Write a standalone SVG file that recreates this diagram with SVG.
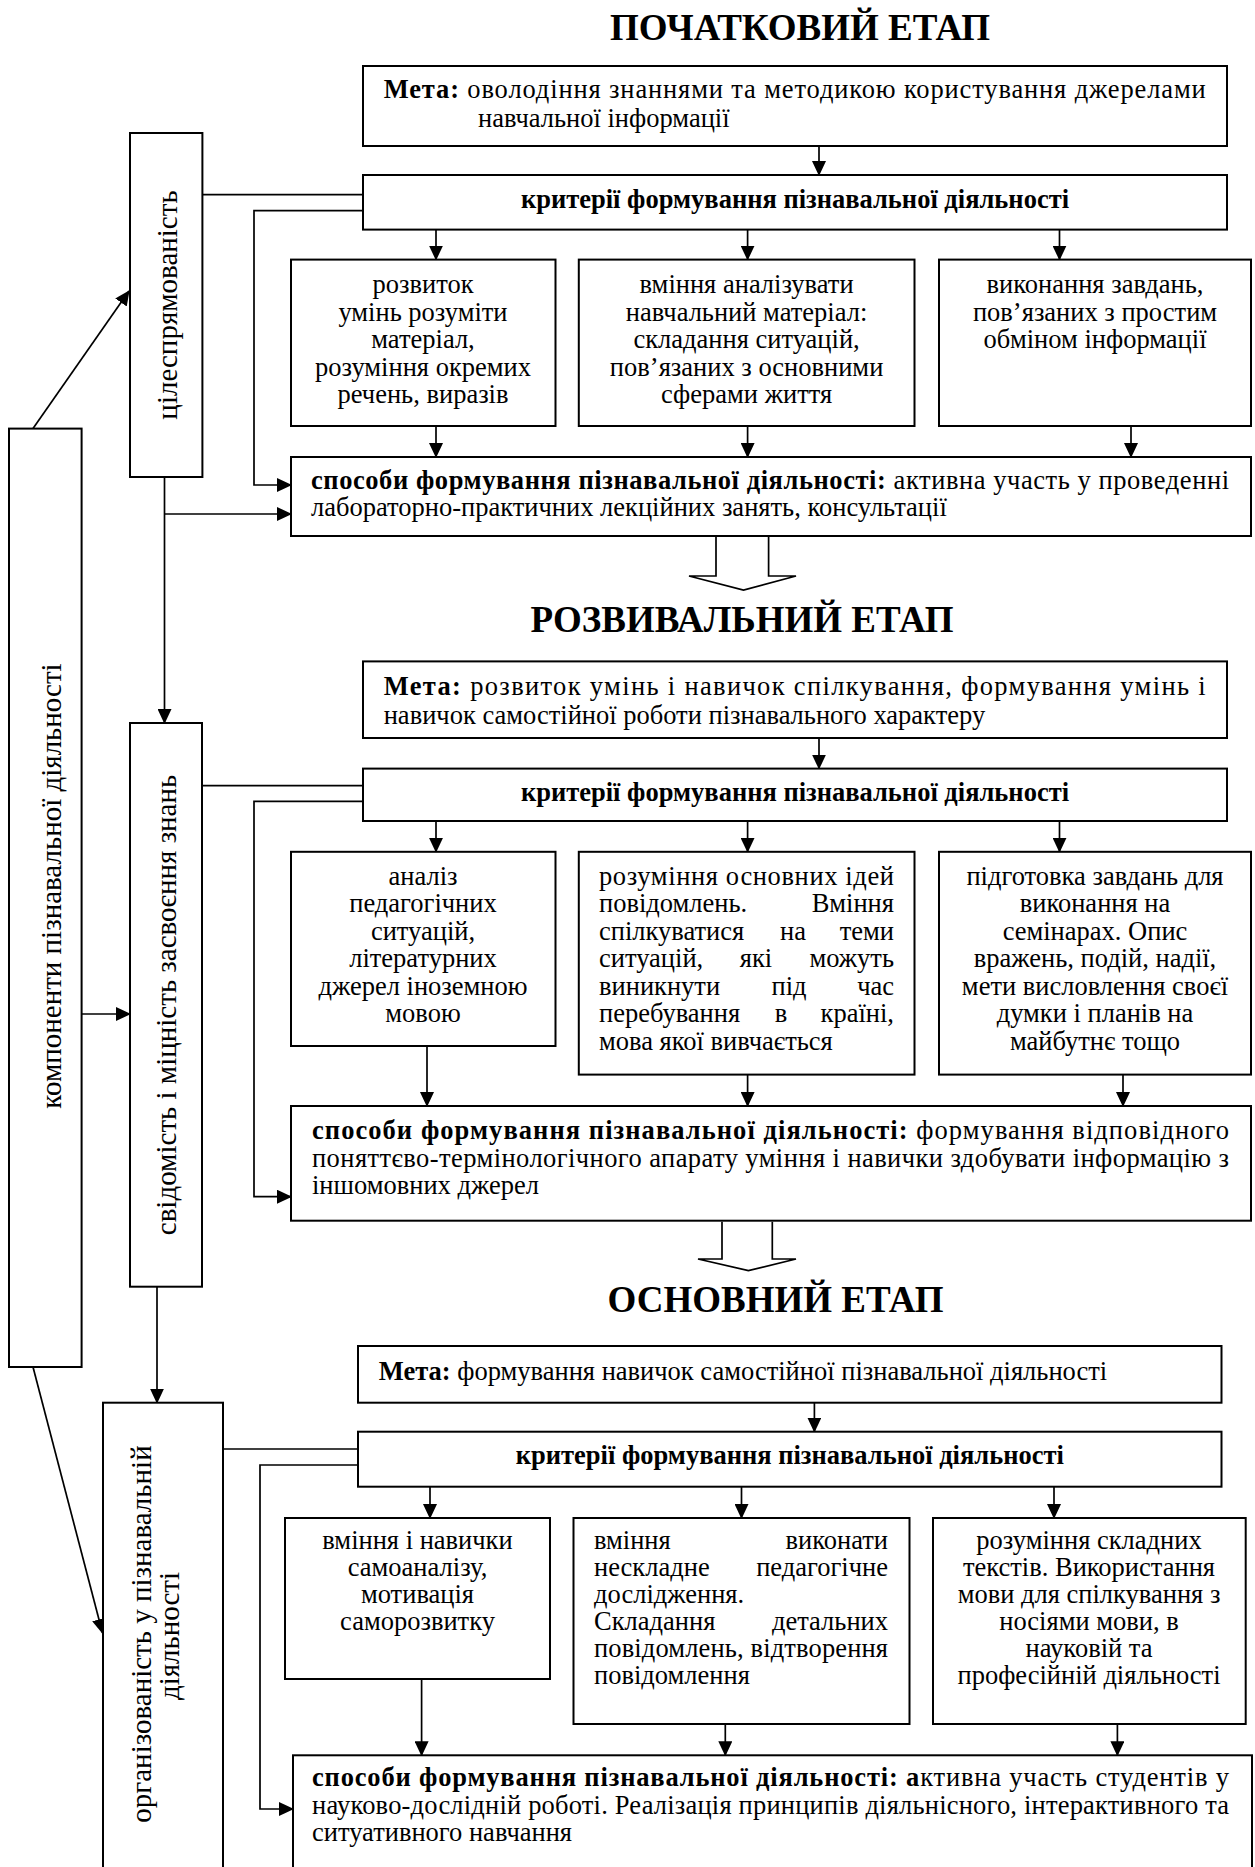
<svg xmlns="http://www.w3.org/2000/svg" width="1255" height="1867" viewBox="0 0 1255 1867">
<style>
.bx{fill:#fff;stroke:#000;stroke-width:2}
.t{font-family:"Liberation Serif","Times New Roman",serif;font-size:26.5px;fill:#000}
.b{font-weight:bold}
.r{font-size:29px}
.h{font-family:"Liberation Serif","Times New Roman",serif;font-size:37px;font-weight:bold;fill:#000;text-anchor:middle}
.c{text-anchor:middle}
.e{text-anchor:end}
.ln{stroke:#000;stroke-width:1.7;fill:none}
.ar{stroke:#000;stroke-width:1.7;fill:none;marker-end:url(#ah)}
.ba{stroke:#000;stroke-width:1.7;fill:#fff}
</style>
<defs>
<marker id="ah" markerWidth="15" markerHeight="14" refX="14" refY="7" orient="auto" markerUnits="userSpaceOnUse">
<path d="M0,0 L15,7 L0,14 z" fill="#000"/>
</marker>
</defs>
<rect width="1255" height="1867" fill="#fff"/>

<g id="titles">
<text class="h" x="800" y="39.5">ПОЧАТКОВИЙ ЕТАП</text>
<text class="h" x="742" y="632">РОЗВИВАЛЬНИЙ ЕТАП</text>
<text class="h" x="775.5" y="1312">ОСНОВНИЙ ЕТАП</text>
</g>

<g id="connectors">
<line class="ar" x1="33" y1="428.6" x2="129" y2="291"/>
<line class="ar" x1="33" y1="1367" x2="102.5" y2="1633"/>
<line class="ar" x1="81.6" y1="1014" x2="130" y2="1014"/>
<line class="ar" x1="164.5" y1="477" x2="164.5" y2="723"/>
<line class="ar" x1="157" y1="1286.7" x2="157" y2="1402.7"/>
<line class="ar" x1="164.5" y1="514" x2="291" y2="514"/>
<line class="ln" x1="202.4" y1="194.6" x2="363" y2="194.6"/>
<line class="ln" x1="202" y1="785.7" x2="363" y2="785.7"/>
<line class="ln" x1="223" y1="1449" x2="358" y2="1449"/>
<polyline class="ar" points="363,210.7 254,210.7 254,485 291,485"/>
<polyline class="ar" points="363,801.4 254,801.4 254,1196.7 291,1196.7"/>
<polyline class="ar" points="358,1465 260,1465 260,1809 293,1809"/>
<line class="ar" x1="819" y1="146" x2="819" y2="175"/>
<line class="ar" x1="436" y1="229.6" x2="436" y2="259.6"/>
<line class="ar" x1="747.6" y1="229.6" x2="747.6" y2="259.6"/>
<line class="ar" x1="1059.5" y1="229.6" x2="1059.5" y2="259.6"/>
<line class="ar" x1="436" y1="426" x2="436" y2="457"/>
<line class="ar" x1="747.6" y1="426" x2="747.6" y2="457"/>
<line class="ar" x1="1131" y1="426" x2="1131" y2="457"/>
<line class="ar" x1="819" y1="738" x2="819" y2="768.6"/>
<line class="ar" x1="436" y1="821" x2="436" y2="851.8"/>
<line class="ar" x1="747.6" y1="821" x2="747.6" y2="851.8"/>
<line class="ar" x1="1059.5" y1="821" x2="1059.5" y2="851.8"/>
<line class="ar" x1="427" y1="1046" x2="427" y2="1106"/>
<line class="ar" x1="747.6" y1="1074.6" x2="747.6" y2="1106"/>
<line class="ar" x1="1123" y1="1074.6" x2="1123" y2="1106"/>
<line class="ar" x1="814.4" y1="1402.7" x2="814.4" y2="1431.7"/>
<line class="ar" x1="430" y1="1486.7" x2="430" y2="1518"/>
<line class="ar" x1="741.5" y1="1486.7" x2="741.5" y2="1518"/>
<line class="ar" x1="1054" y1="1486.7" x2="1054" y2="1518"/>
<line class="ar" x1="421.6" y1="1679" x2="421.6" y2="1755.3"/>
<line class="ar" x1="725.3" y1="1724" x2="725.3" y2="1755.3"/>
<line class="ar" x1="1117.4" y1="1724" x2="1117.4" y2="1755.3"/>
<polyline class="ba" points="716,537 716,576 689,576 743.5,590 796,576 768.6,576 768.6,537"/>
<polyline class="ba" points="722,1221.7 722,1259 698,1259 748.4,1270.7 796,1259 772.3,1259 772.3,1221.7"/>
</g>

<g id="components">
<rect class="bx" x="9" y="428.6" width="72.6" height="938.4"/>
<text class="t r c" x="61" y="886" transform="rotate(-90 61 886)">компоненти пізнавальної діяльності</text>
</g>
<g id="purposefulness">
<rect class="bx" x="130" y="133" width="72.4" height="344"/>
<text class="t r c" x="177" y="305" transform="rotate(-90 177 305)">цілеспрямованість</text>
</g>
<g id="awareness">
<rect class="bx" x="130" y="723" width="72" height="563.7"/>
<text class="t r c" x="176" y="1005" transform="rotate(-90 176 1005)">свідомість і міцність засвоєння знань</text>
</g>
<g id="organization">
<rect class="bx" x="103" y="1402.7" width="120" height="480"/>
<text class="t r c" x="151" y="1634" transform="rotate(-90 151 1634)">організованість у пізнавальній</text>
<text class="t r c" x="179" y="1636" transform="rotate(-90 179 1636)">діяльності</text>
</g>

<g id="goal1">
<rect class="bx" x="363" y="66" width="864" height="80"/>
<text class="t" x="383.7" y="98" textLength="822" lengthAdjust="spacing"><tspan class="b">Мета:</tspan> оволодіння знаннями та методикою користування джерелами</text>
<text class="t" x="478" y="127">навчальної інформації</text>
</g>
<g id="criteria1">
<rect class="bx" x="363" y="175" width="864" height="54.6"/>
<text class="t b c" x="795" y="208">критерії формування пізнавальної діяльності</text>
</g>
<g id="a1">
<rect class="bx" x="291" y="259.6" width="264.5" height="166.4"/>
<text class="t c" x="423" y="293">розвиток</text>
<text class="t c" x="423" y="320.5">умінь розуміти</text>
<text class="t c" x="423" y="348">матеріал,</text>
<text class="t c" x="423" y="375.5">розуміння окремих</text>
<text class="t c" x="423" y="403">речень, виразів</text>
</g>
<g id="a2">
<rect class="bx" x="578.8" y="259.6" width="335.7" height="166.4"/>
<text class="t c" x="746.6" y="293">вміння аналізувати</text>
<text class="t c" x="746.6" y="320.5">навчальний матеріал:</text>
<text class="t c" x="746.6" y="348">складання ситуацій,</text>
<text class="t c" x="746.6" y="375.5">пов’язаних з основними</text>
<text class="t c" x="746.6" y="403">сферами життя</text>
</g>
<g id="a3">
<rect class="bx" x="939" y="259.6" width="312" height="166.4"/>
<text class="t c" x="1095" y="293">виконання завдань,</text>
<text class="t c" x="1095" y="320.5">пов’язаних з простим</text>
<text class="t c" x="1095" y="348">обміном інформації</text>
</g>
<g id="methods1">
<rect class="bx" x="291" y="457" width="960" height="79"/>
<text class="t" x="311" y="489" textLength="918" lengthAdjust="spacing"><tspan class="b">способи формування пізнавальної діяльності:</tspan> активна участь у проведенні</text>
<text class="t" x="311" y="516">лабораторно-практичних лекційних занять, консультації</text>
</g>

<g id="goal2">
<rect class="bx" x="363" y="661.4" width="864" height="76.6"/>
<text class="t" x="383.7" y="695" textLength="822" lengthAdjust="spacing"><tspan class="b">Мета:</tspan> розвиток умінь і навичок спілкування, формування умінь і</text>
<text class="t" x="383.7" y="724">навичок самостійної роботи пізнавального характеру</text>
</g>
<g id="criteria2">
<rect class="bx" x="363" y="768.6" width="864" height="52.4"/>
<text class="t b c" x="795" y="801">критерії формування пізнавальної діяльності</text>
</g>
<g id="b1">
<rect class="bx" x="291" y="851.8" width="264.5" height="194.2"/>
<text class="t c" x="423" y="884.5">аналіз</text>
<text class="t c" x="423" y="912">педагогічних</text>
<text class="t c" x="423" y="939.5">ситуацій,</text>
<text class="t c" x="423" y="967">літературних</text>
<text class="t c" x="423" y="994.5">джерел іноземною</text>
<text class="t c" x="423" y="1022">мовою</text>
</g>
<g id="b2">
<rect class="bx" x="578.8" y="851.8" width="335.7" height="222.8"/>
<text class="t" x="599" y="884.5" textLength="295" lengthAdjust="spacing">розуміння основних ідей</text>
<text class="t" x="599" y="912">повідомлень.</text><text class="t e" x="894" y="912">Вміння</text>
<text class="t" x="599" y="939.5">спілкуватися</text><text class="t c" x="793" y="939.5">на</text><text class="t e" x="894" y="939.5">теми</text>
<text class="t" x="599" y="967">ситуацій,</text><text class="t c" x="756" y="967">які</text><text class="t e" x="894" y="967">можуть</text>
<text class="t" x="599" y="994.5">виникнути</text><text class="t c" x="789" y="994.5">під</text><text class="t e" x="894" y="994.5">час</text>
<text class="t" x="599" y="1022">перебування</text><text class="t c" x="781" y="1022">в</text><text class="t e" x="894" y="1022">країні,</text>
<text class="t" x="599" y="1049.5">мова якої вивчається</text>
</g>
<g id="b3">
<rect class="bx" x="939" y="851.8" width="312" height="222.8"/>
<text class="t c" x="1095" y="884.5">підготовка завдань для</text>
<text class="t c" x="1095" y="912">виконання на</text>
<text class="t c" x="1095" y="939.5">семінарах. Опис</text>
<text class="t c" x="1095" y="967">вражень, подій, надії,</text>
<text class="t c" x="1095" y="994.5">мети висловлення своєї</text>
<text class="t c" x="1095" y="1022">думки і планів на</text>
<text class="t c" x="1095" y="1049.5">майбутнє тощо</text>
</g>
<g id="methods2">
<rect class="bx" x="291" y="1106" width="960" height="114.7"/>
<text class="t" x="312" y="1139" textLength="917" lengthAdjust="spacing"><tspan class="b">способи формування пізнавальної діяльності:</tspan> формування відповідного</text>
<text class="t" x="312" y="1166.5" textLength="917" lengthAdjust="spacing">поняттєво-термінологічного апарату уміння і навички здобувати інформацію з</text>
<text class="t" x="312" y="1194">іншомовних джерел</text>
</g>

<g id="goal3">
<rect class="bx" x="358" y="1346" width="863.5" height="56.7"/>
<text class="t" x="378.8" y="1380"><tspan class="b">Мета:</tspan> формування навичок самостійної пізнавальної діяльності</text>
</g>
<g id="criteria3">
<rect class="bx" x="358" y="1431.7" width="863.5" height="55"/>
<text class="t b c" x="789.8" y="1464">критерії формування пізнавальної діяльності</text>
</g>
<g id="c1">
<rect class="bx" x="285" y="1518" width="265" height="161"/>
<text class="t c" x="417.5" y="1549">вміння і навички</text>
<text class="t c" x="417.5" y="1576">самоаналізу,</text>
<text class="t c" x="417.5" y="1603">мотивація</text>
<text class="t c" x="417.5" y="1630">саморозвитку</text>
</g>
<g id="c2">
<rect class="bx" x="573.5" y="1518" width="336" height="206"/>
<text class="t" x="594" y="1549">вміння</text><text class="t e" x="888" y="1549">виконати</text>
<text class="t" x="594" y="1576">нескладне</text><text class="t e" x="888" y="1576">педагогічне</text>
<text class="t" x="594" y="1603">дослідження.</text>
<text class="t" x="594" y="1630">Складання</text><text class="t e" x="888" y="1630">детальних</text>
<text class="t" x="594" y="1657" textLength="294" lengthAdjust="spacing">повідомлень, відтворення</text>
<text class="t" x="594" y="1684">повідомлення</text>
</g>
<g id="c3">
<rect class="bx" x="933" y="1518" width="312.7" height="206"/>
<text class="t c" x="1089" y="1549">розуміння складних</text>
<text class="t c" x="1089" y="1576">текстів. Використання</text>
<text class="t c" x="1089" y="1603">мови для спілкування з</text>
<text class="t c" x="1089" y="1630">носіями мови, в</text>
<text class="t c" x="1089" y="1657">науковій та</text>
<text class="t c" x="1089" y="1684">професійній діяльності</text>
</g>
<g id="methods3">
<rect class="bx" x="293" y="1755.3" width="959" height="130"/>
<text class="t" x="312" y="1786" textLength="917" lengthAdjust="spacing"><tspan class="b">способи формування пізнавальної діяльності: а</tspan>ктивна участь студентів у</text>
<text class="t" x="312" y="1813.5" textLength="917" lengthAdjust="spacing">науково-дослідній роботі. Реалізація принципів діяльнісного, інтерактивного та</text>
<text class="t" x="312" y="1841">ситуативного навчання</text>
</g>
</svg>
